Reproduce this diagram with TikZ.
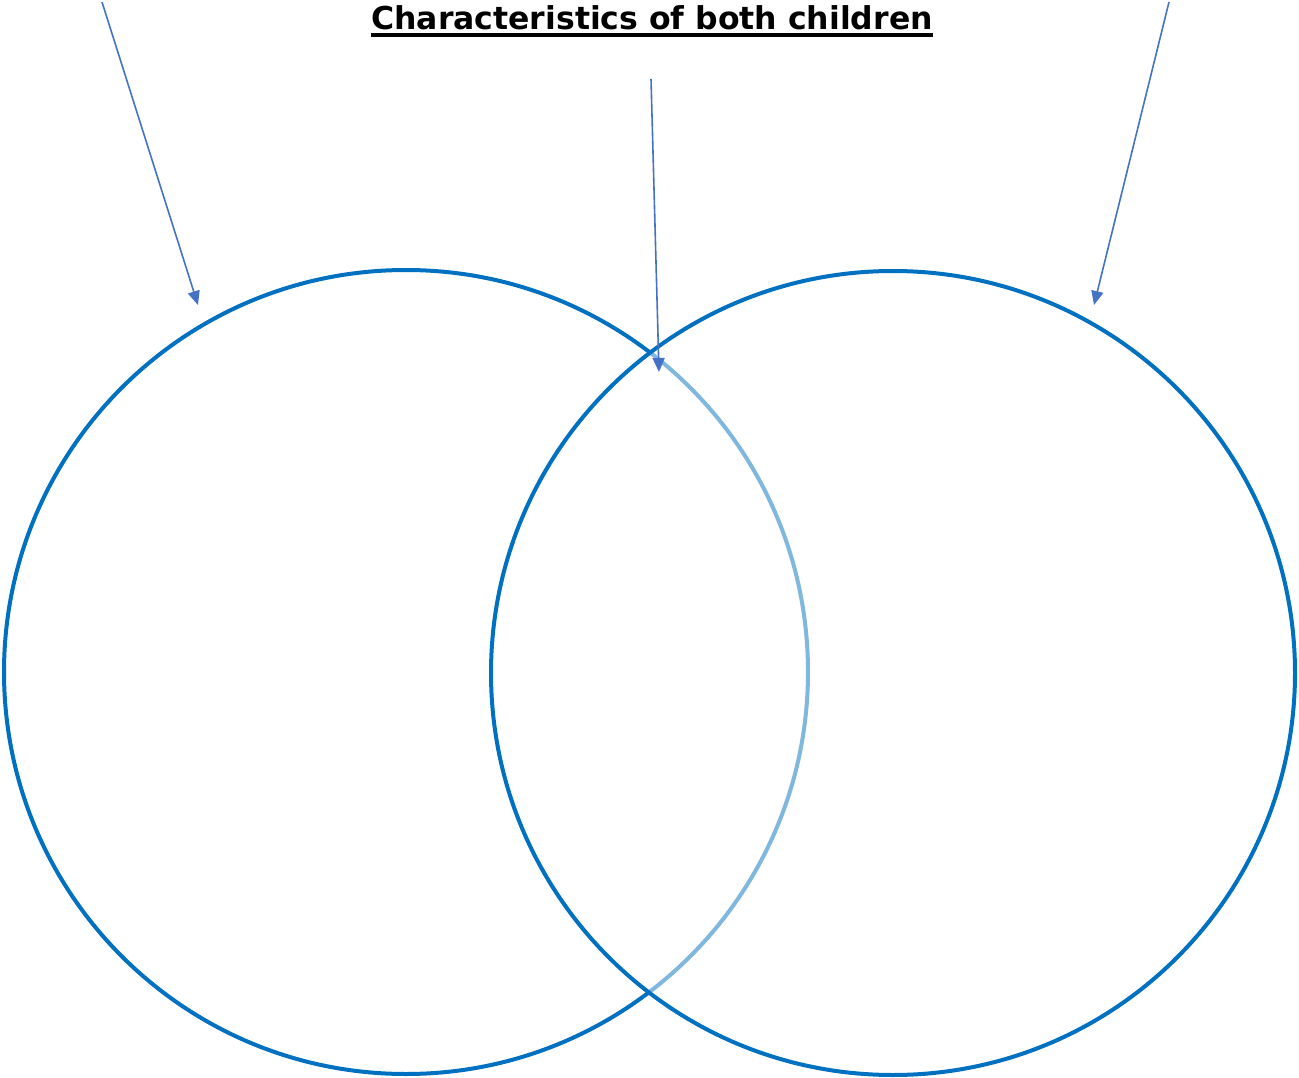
\documentclass[tikz,border=0pt]{standalone}
\usepackage{fontspec}
\setmainfont{DejaVu Sans}
\usetikzlibrary{arrows.meta,positioning}
\definecolor{ringblue}{HTML}{0070C0}
\definecolor{arrowblue}{HTML}{4472C4}

\begin{document}
\begin{tikzpicture}[
    x=1pt, y=-1pt,
    >={Triangle[length=14pt,width=12pt]},
    ring/.style={draw=ringblue, line width=4pt, circle, minimum size=804pt, inner sep=0pt},
    pointer/.style={->, draw=arrowblue, line width=1.6pt},
    heading/.style={font=\fontsize{31.5}{36}\selectfont\bfseries, inner sep=0pt}
  ]
    \useasboundingbox (0,0) rectangle (1299,1078);
    \node[heading, anchor=base] (title) at (652,30) {Characteristics of both children};
    % underline of the heading
    \draw[line width=3.5pt] ([yshift=-5pt]title.base west) -- ([yshift=-5pt]title.base east);

    \node[ring] (childA) at (406,672) {};
    \node[ring, fill=white, fill opacity=0.5] (childB) at (893,673) {};

    \coordinate (fromA) at (102,2);
    \coordinate (toA) at (198,305);
    \coordinate (fromBoth) at (651,79);
    \coordinate (toBoth) at (659,372);
    \coordinate (fromB) at (1169,2);
    \coordinate (toB) at (1094,305);

    \draw[pointer] (fromA) -- (toA);
    \draw[pointer] (fromBoth) -- (toBoth);
    \draw[pointer] (fromB) -- (toB);
  \end{tikzpicture}
\end{document}
